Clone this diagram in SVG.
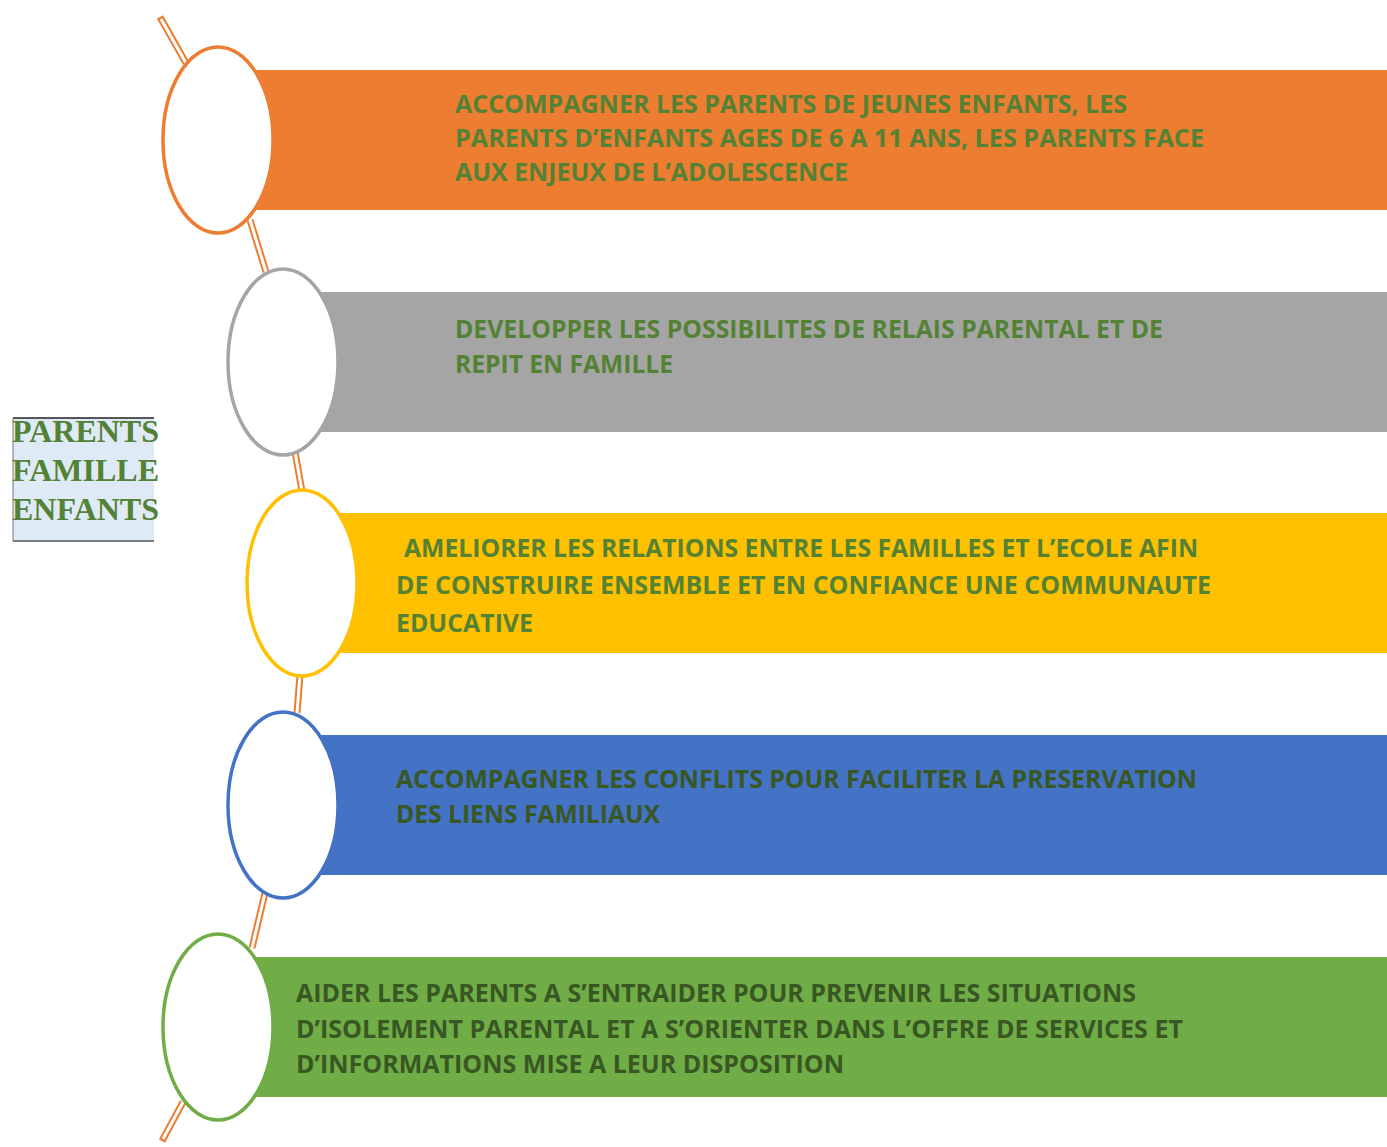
<svg xmlns="http://www.w3.org/2000/svg" width="1387" height="1147" viewBox="0 0 1387 1147">
<style>
.t{font-family:"Open Sans","Liberation Sans",sans-serif;font-weight:bold;font-size:25px;fill:#548235}
.d{fill:#385723}
.ring{fill:#ffffff;stroke-width:3.5}
.stickO{stroke:#ED7D31;stroke-width:7;fill:none}
.stickI{stroke:#ffffff;stroke-width:3;fill:none}
.lbl{font-family:"Liberation Serif","Times New Roman",serif;font-weight:bold;font-size:32px;fill:#538135}
</style>
<rect width="1387" height="1147" fill="#ffffff"/>
<g id="connectors">
<line class="stickO" x1="160" y1="17" x2="186" y2="63"/>
<line class="stickI" x1="161" y1="19" x2="186" y2="63"/>
<line class="stickO" x1="250" y1="220" x2="266" y2="272"/>
<line class="stickI" x1="250" y1="220" x2="266" y2="272"/>
<line class="stickO" x1="295" y1="452" x2="302" y2="491"/>
<line class="stickI" x1="295" y1="452" x2="302" y2="491"/>
<line class="stickO" x1="300" y1="675" x2="297" y2="713"/>
<line class="stickI" x1="300" y1="675" x2="297" y2="713"/>
<line class="stickO" x1="265" y1="893" x2="252" y2="948"/>
<line class="stickI" x1="265" y1="893" x2="252" y2="948"/>
<line class="stickO" x1="183" y1="1102" x2="162" y2="1141"/>
<line class="stickI" x1="183" y1="1102" x2="163" y2="1139"/>
</g>
<g id="node1">
<rect x="255" y="70" width="1132" height="140" fill="#ED7D31"/>
<ellipse class="ring" cx="218" cy="140" rx="55" ry="93" stroke="#ED7D31"/>
<text class="t" x="455" y="113" textLength="672" lengthAdjust="spacingAndGlyphs">ACCOMPAGNER LES PARENTS DE JEUNES ENFANTS, LES</text>
<text class="t" x="455" y="147" textLength="749" lengthAdjust="spacingAndGlyphs">PARENTS D’ENFANTS AGES DE 6 A 11 ANS, LES PARENTS FACE</text>
<text class="t" x="455" y="181" textLength="393" lengthAdjust="spacingAndGlyphs">AUX ENJEUX DE L’ADOLESCENCE</text>
</g>
<g id="node2">
<rect x="320" y="292" width="1067" height="140" fill="#A5A5A5"/>
<ellipse class="ring" cx="283" cy="362" rx="55" ry="93" stroke="#A5A5A5"/>
<text class="t" x="455" y="338" textLength="708" lengthAdjust="spacingAndGlyphs">DEVELOPPER LES POSSIBILITES DE RELAIS PARENTAL ET DE</text>
<text class="t" x="455" y="373" textLength="218" lengthAdjust="spacingAndGlyphs">REPIT EN FAMILLE</text>
</g>
<g id="node3">
<rect x="340" y="513" width="1047" height="140" fill="#FFC000"/>
<ellipse class="ring" cx="302" cy="583" rx="55" ry="93" stroke="#FFC000"/>
<text class="t" x="404" y="557" textLength="794" lengthAdjust="spacingAndGlyphs">AMELIORER LES RELATIONS ENTRE LES FAMILLES ET L’ECOLE AFIN</text>
<text class="t" x="396" y="594" textLength="815" lengthAdjust="spacingAndGlyphs">DE CONSTRUIRE ENSEMBLE ET EN CONFIANCE UNE COMMUNAUTE</text>
<text class="t" x="396" y="632" textLength="137" lengthAdjust="spacingAndGlyphs">EDUCATIVE</text>
</g>
<g id="node4">
<rect x="320" y="735" width="1067" height="140" fill="#4472C4"/>
<ellipse class="ring" cx="283" cy="805" rx="55" ry="93" stroke="#4472C4"/>
<text class="t d" x="396" y="788" textLength="801" lengthAdjust="spacingAndGlyphs">ACCOMPAGNER LES CONFLITS POUR FACILITER LA PRESERVATION</text>
<text class="t d" x="396" y="823" textLength="264" lengthAdjust="spacingAndGlyphs">DES LIENS FAMILIAUX</text>
</g>
<g id="node5">
<rect x="255" y="957" width="1132" height="140" fill="#70AD47"/>
<ellipse class="ring" cx="218" cy="1027" rx="55" ry="93" stroke="#70AD47"/>
<text class="t d" x="296" y="1002" textLength="840" lengthAdjust="spacingAndGlyphs">AIDER LES PARENTS A S’ENTRAIDER POUR PREVENIR LES SITUATIONS</text>
<text class="t d" x="296" y="1038" textLength="887" lengthAdjust="spacingAndGlyphs">D’ISOLEMENT PARENTAL ET A S’ORIENTER DANS L’OFFRE DE SERVICES ET</text>
<text class="t d" x="296" y="1073" textLength="548" lengthAdjust="spacingAndGlyphs">D’INFORMATIONS MISE A LEUR DISPOSITION</text>
</g>
<g id="label">
<rect x="13" y="418" width="141" height="123" fill="#DEEAF6"/>
<line x1="13" y1="418" x2="154" y2="418" stroke="#222222" stroke-width="1.5"/>
<line x1="13" y1="541" x2="154" y2="541" stroke="#555555" stroke-width="1.5"/>
<line x1="13" y1="418" x2="13" y2="541" stroke="#777777" stroke-width="1"/>
<text class="lbl" x="12" y="442" textLength="147" lengthAdjust="spacingAndGlyphs">PARENTS</text>
<text class="lbl" x="12" y="481" textLength="147" lengthAdjust="spacingAndGlyphs">FAMILLE</text>
<text class="lbl" x="12" y="520" textLength="147" lengthAdjust="spacingAndGlyphs">ENFANTS</text>
</g>
</svg>
